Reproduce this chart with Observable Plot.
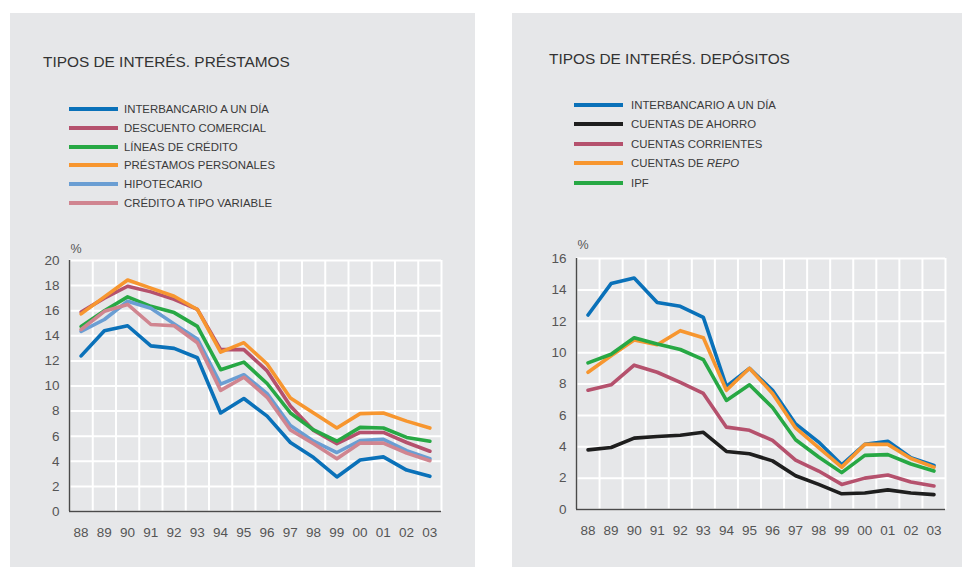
<!DOCTYPE html>
<html><head><meta charset="utf-8">
<script src="https://cdn.jsdelivr.net/npm/d3@7"></script>
<script src="https://cdn.jsdelivr.net/npm/@observablehq/plot@0.6"></script>
<style>
body{margin:0;background:#fff;font-family:"Liberation Sans",Arial,sans-serif;width:962px;height:567px;overflow:hidden;position:relative;}
.panel{position:absolute;top:13px;height:554px;background:#e6e7e9;}
.title{position:absolute;font-size:15.4px;color:#333;white-space:nowrap;}
.legend{position:absolute;font-size:11.4px;color:#3a3a3a;}
.row{position:absolute;left:0;white-space:nowrap;height:14px;line-height:14px;}
.sw{position:absolute;left:0;top:5px;width:49px;height:4px;}
.lbl{position:absolute;top:0;}
.plot{position:absolute;}
</style>
</head><body>
<div class="panel" id="p1" style="left:10px;width:465px;">
  <div class="title" style="left:33px;top:40px;">TIPOS DE INTERÉS. PRÉSTAMOS</div>
  <div class="legend" id="leg1" style="left:59px;top:89px;"></div>
  <div class="plot" id="c1" style="left:19px;top:222px;"></div>
</div>
<div class="panel" id="p2" style="left:512px;width:450px;">
  <div class="title" style="left:37px;top:37px;">TIPOS DE INTERÉS. DEPÓSITOS</div>
  <div class="legend" id="leg2" style="left:62px;top:85px;"></div>
  <div class="plot" id="c2" style="left:24px;top:220px;"></div>
</div>
<script>
const years = [1988,1989,1990,1991,1992,1993,1994,1995,1996,1997,1998,1999,2000,2001,2002,2003];
const yearLabels = ["88","89","90","91","92","93","94","95","96","97","98","99","00","01","02","03"];

// Préstamos
const interbancario = [12.4,14.4,14.8,13.2,13.0,12.25,7.85,9.0,7.6,5.5,4.3,2.75,4.1,4.35,3.3,2.8];
const descuentoComercial = [15.9,17.0,17.95,17.5,16.9,16.1,12.9,12.9,11.2,8.4,6.45,5.4,6.3,6.3,5.5,4.8];
const lineasCredito = [14.75,16.0,17.1,16.35,15.85,14.75,11.3,11.9,10.2,7.85,6.5,5.6,6.7,6.65,5.9,5.6];
const prestamosPersonales = [15.75,17.1,18.45,17.8,17.15,16.1,12.7,13.45,11.75,9.05,7.85,6.65,7.8,7.85,7.2,6.65];
const hipotecario = [14.35,15.3,16.75,16.2,14.95,13.75,10.15,10.9,9.4,6.85,5.6,4.7,5.65,5.75,4.85,4.2];
const creditoVariable = [14.5,15.95,16.5,14.9,14.8,13.45,9.65,10.7,9.1,6.5,5.4,4.2,5.45,5.45,4.65,4.05];

// Depósitos
const interbancarioDep = [12.4,14.4,14.75,13.2,12.95,12.25,7.85,9.0,7.6,5.45,4.3,2.85,4.15,4.35,3.3,2.8];
const cuentasAhorro = [3.8,3.95,4.55,4.65,4.73,4.92,3.7,3.55,3.1,2.15,1.6,1.0,1.05,1.25,1.05,0.95];
const cuentasCorrientes = [7.6,7.95,9.2,8.75,8.1,7.4,5.25,5.05,4.4,3.15,2.45,1.6,2.0,2.2,1.75,1.5];
const cuentasRepo = [8.75,9.8,10.8,10.5,11.4,10.95,7.6,9.0,7.4,5.2,3.95,2.7,4.15,4.15,3.25,2.7];
const ipf = [9.35,9.9,10.95,10.55,10.2,9.55,6.95,7.95,6.5,4.45,3.35,2.35,3.45,3.5,2.9,2.45];

const yTicksLeft = [0,2,4,6,8,10,12,14,16,18,20];
const yTicksRight = [0,2,4,6,8,10,12,14,16];

const seriesLeft = [
  {name:"INTERBANCARIO A UN DÍA", values:interbancario, color:"#0a71b9"},
  {name:"DESCUENTO COMERCIAL", values:descuentoComercial, color:"#b5516d"},
  {name:"LÍNEAS DE CRÉDITO", values:lineasCredito, color:"#27a844"},
  {name:"PRÉSTAMOS PERSONALES", values:prestamosPersonales, color:"#f7962f"},
  {name:"HIPOTECARIO", values:hipotecario, color:"#6a9ed3"},
  {name:"CRÉDITO A TIPO VARIABLE", values:creditoVariable, color:"#d08590"}
];
const seriesRight = [
  {name:"INTERBANCARIO A UN DÍA", values:interbancarioDep, color:"#0a71b9"},
  {name:"CUENTAS DE AHORRO", values:cuentasAhorro, color:"#1e1e1e"},
  {name:"CUENTAS CORRIENTES", values:cuentasCorrientes, color:"#b5516d"},
  {name:"CUENTAS DE <i>REPO</i>", values:cuentasRepo, color:"#f7962f"},
  {name:"IPF", values:ipf, color:"#27a844"}
];

function legend(el, series, step, textLeft) {
  series.forEach((s, i) => {
    const r = document.createElement("div");
    r.className = "row";
    r.style.top = (i * step) + "px";
    r.innerHTML = `<div class="sw" style="background:${s.color}"></div><div class="lbl" style="left:${textLeft}px">${s.name}</div>`;
    el.appendChild(r);
  });
}

function chart(series, yTicks, frameW, pctDy) {
  const lo = years[0] - 0.5, hi = years[years.length - 1] + 0.5;
  const bounds = [...years.map(y => y - 0.5), hi];
  const marks = [
    Plot.ruleY(yTicks, {stroke: "white", strokeWidth: 2}),
    Plot.ruleX(bounds, {stroke: "white", strokeWidth: 2}),
    Plot.ruleX([lo], {stroke: "#4a4a4a", strokeWidth: 1.5}),
    Plot.ruleY([0], {stroke: "#4a4a4a", strokeWidth: 1.5}),
  ];
  series.forEach(s => {
    const data = years.map((yr, i) => ({year: yr, value: s.values[i]}));
    marks.push(Plot.line(data, {x: "year", y: "value", stroke: s.color, strokeWidth: 3.6, strokeLinejoin: "round"}));
  });
  marks.push(Plot.text(["%"], {frameAnchor: "top-left", dx: 1, dy: pctDy, fontSize: 12.5, fill: "#555"}));
  return Plot.plot({
    width: 40 + frameW + 10, height: 316,
    marginLeft: 40, marginRight: 10, marginTop: 25, marginBottom: 40,
    style: {background: "transparent", fontFamily: '"Liberation Sans", Arial, sans-serif', fontSize: "13.5px", color: "#555", overflow: "visible"},
    x: {domain: [lo, hi], ticks: years, tickFormat: d => yearLabels[years.indexOf(d)], tickSize: 0, tickPadding: 16, label: null},
    y: {domain: [0, yTicks[yTicks.length - 1]], ticks: yTicks, tickSize: 0, tickPadding: 10, label: null},
    marks
  });
}

legend(document.getElementById("leg1"), seriesLeft, 18.8, 55);
legend(document.getElementById("leg2"), seriesRight, 19.4, 57);
document.getElementById("c1").appendChild(chart(seriesLeft, yTicksLeft, 372, -16));
document.getElementById("c2").appendChild(chart(seriesRight, yTicksRight, 369, -18));
</script>
</body></html>
